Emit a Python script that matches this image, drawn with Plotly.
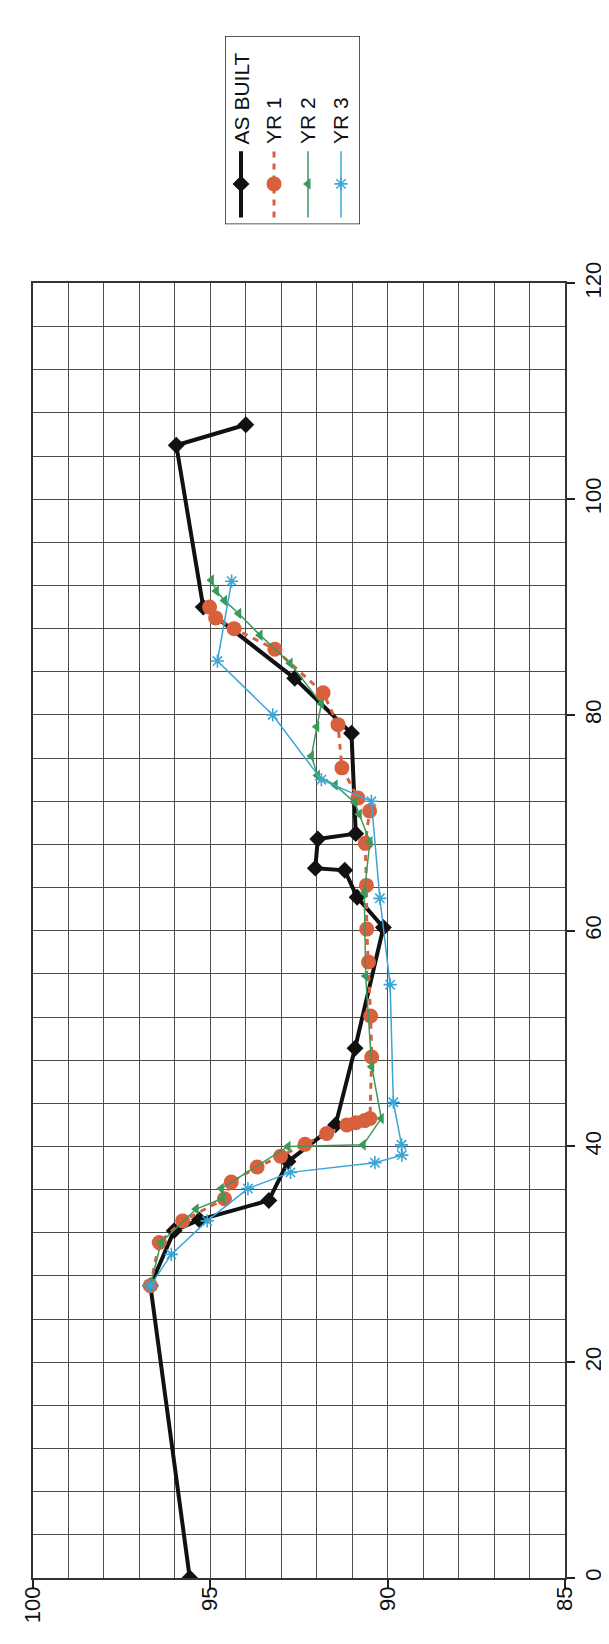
import plotly.graph_objects as go

# ---------------- data (station, elevation) ----------------
asbuilt_sta = [0, 27.1, 32.2, 33.2, 35.0, 38.6, 42.0, 49.1, 60.3, 63.1, 65.6, 65.8, 68.5, 69.0, 78.3, 83.4, 90.0, 105.0, 106.9]
asbuilt_elev = [95.58, 96.69, 96.02, 95.31, 93.35, 92.81, 91.47, 90.92, 90.12, 90.86, 91.21, 92.04, 91.97, 90.9, 91.02, 92.62, 95.2, 95.96, 94.0]

yr1_sta = [27.1, 31.1, 33.1, 35.15, 36.7, 38.1, 39.1, 40.2, 41.2, 42.0, 42.2, 42.4, 42.6, 48.3, 52.1, 57.1, 60.15, 64.2, 68.1, 71.1, 72.3, 75.1, 79.1, 82.05, 86.1, 88.0, 89.0, 90.0]
yr1_elev = [96.69, 96.44, 95.78, 94.6, 94.41, 93.68, 93.02, 92.33, 91.72, 91.15, 90.9, 90.65, 90.5, 90.45, 90.48, 90.54, 90.59, 90.6, 90.63, 90.51, 90.84, 91.29, 91.4, 91.82, 93.18, 94.33, 94.85, 95.02]

yr2_sta = [27.1, 31.1, 34.2, 35.2, 36.1, 40.0, 40.15, 42.6, 47.4, 55.8, 63.5, 68.25, 70.8, 71.9, 73.5, 74.4, 76.2, 78.9, 81.05, 84.8, 87.4, 89.4, 90.6, 91.5, 92.5]
yr2_elev = [96.69, 96.39, 95.4, 94.65, 94.69, 92.81, 90.69, 90.18, 90.45, 90.62, 90.66, 90.5, 90.8, 90.93, 91.48, 91.98, 92.15, 92.0, 91.87, 92.75, 93.6, 94.2, 94.6, 94.83, 94.97]

yr3_sta = [27.1, 30.0, 33.1, 36.1, 37.6, 38.5, 39.2, 40.15, 44.1, 55.0, 63.0, 72.0, 74.0, 80.0, 85.0, 92.4]
yr3_elev = [96.69, 96.1, 95.09, 93.94, 92.74, 90.36, 89.6, 89.61, 89.84, 89.93, 90.22, 90.46, 91.87, 93.24, 94.8, 94.4]

series_names = ["AS BUILT", "YR 1", "YR 2", "YR 3"]

elev_range = [100, 85]
elev_ticks = [100, 95, 90, 85]
sta_range = [0, 120]
sta_ticks = [0, 20, 40, 60, 80, 100, 120]

# ---------------- styles ----------------
FONT = "Liberation Sans, Arial, sans-serif"
GRID = "#4d4d4d"
C_BLACK = "#111111"
C_ORANGE = "#d8603c"
C_GREEN = "#3a9a5c"
C_CYAN = "#3aa6d6"

styles = [
    dict(line=dict(color=C_BLACK, width=4),
         marker=dict(symbol="diamond", size=13, color=C_BLACK)),
    dict(line=dict(color=C_ORANGE, width=3, dash="6px,6px"),
         marker=dict(symbol="circle", size=15, color=C_ORANGE)),
    dict(line=dict(color=C_GREEN, width=1.5),
         marker=dict(symbol="triangle-left", size=10, color=C_GREEN)),
    dict(line=dict(color=C_CYAN, width=1.5),
         marker=dict(symbol="asterisk-open", size=11, color=C_CYAN,
                     line=dict(color=C_CYAN, width=1.6))),
]

data_sets = [
    (asbuilt_sta, asbuilt_elev),
    (yr1_sta, yr1_elev),
    (yr2_sta, yr2_elev),
    (yr3_sta, yr3_elev),
]

fig = go.Figure()
for name, (sta, elev), st in zip(series_names, data_sets, styles):
    fig.add_trace(go.Scatter(
        x=elev, y=sta, mode="lines+markers", name=name,
        line=st["line"], marker=st["marker"], showlegend=False,
        xaxis="x", yaxis="y",
    ))

# ---------------- custom rotated legend (pixel-like units on x2/y2) ----------------
LEG_X0, LEG_X1, LEG_Y0, LEG_Y1 = 217, 352, 6, 197
leg_cols = [233, 266, 300, 333]
leg_line_lo, leg_line_hi, leg_mark = 190, 123, 156
leg_text_base = 118

for name, col, st in zip(series_names, leg_cols, styles):
    fig.add_trace(go.Scatter(
        x=[col, col], y=[leg_line_lo, leg_line_hi], mode="lines",
        line=st["line"], showlegend=False, hoverinfo="skip",
        xaxis="x2", yaxis="y2"))
    fig.add_trace(go.Scatter(
        x=[col], y=[leg_mark], mode="markers",
        marker=st["marker"], showlegend=False, hoverinfo="skip",
        xaxis="x2", yaxis="y2"))
    fig.add_annotation(
        x=col, y=leg_text_base, xref="x2", yref="y2", text=name,
        textangle=-90, showarrow=False, xanchor="center", yanchor="bottom",
        font=dict(family=FONT, size=21, color="#111111"))

fig.add_shape(type="rect", xref="x2", yref="y2",
              x0=LEG_X0, x1=LEG_X1, y0=LEG_Y0, y1=LEG_Y1,
              line=dict(color="#222222", width=1.5))

W, H = 609, 1644
ML, MR, MT, MB = 25, 52, 5, 74
plot_h = H - MT - MB
plot_w = W - ML - MR
main_top_px = 257
y_dom_top = (H - MB - main_top_px) / plot_h

fig.update_layout(
    width=W, height=H, autosize=False,
    margin=dict(l=ML, r=MR, t=MT, b=MB, pad=0),
    paper_bgcolor="white", plot_bgcolor="white",
    font=dict(family=FONT, size=22, color="#111111"),
    showlegend=False,
    xaxis=dict(
        range=elev_range, tickvals=elev_ticks, ticktext=[str(v) for v in elev_ticks],
        tickangle=-90, ticks="outside", ticklen=8, tickwidth=1.5, tickcolor="#222222",
        ticklabelstandoff=-10,
        showgrid=True, gridcolor=GRID, gridwidth=1.2,
        minor=dict(dtick=1, tick0=0, showgrid=True, gridcolor=GRID, gridwidth=1.2, ticks=""),
        showline=True, linecolor="#333333", linewidth=1.5, mirror=True,
        zeroline=False, domain=[0, 1], anchor="y",
        tickfont=dict(family=FONT, size=22, color="#111111"),
    ),
    yaxis=dict(
        range=sta_range, tickvals=sta_ticks, ticktext=[str(v) for v in sta_ticks],
        side="right", tickangle=-90, ticks="outside", ticklen=8, tickwidth=1.5,
        tickcolor="#222222",
        showgrid=True, gridcolor=GRID, gridwidth=1.2,
        minor=dict(dtick=4, tick0=0, showgrid=True, gridcolor=GRID, gridwidth=1.2, ticks=""),
        showline=True, linecolor="#333333", linewidth=1.5, mirror=True,
        zeroline=False, domain=[0, y_dom_top], anchor="x",
        tickfont=dict(family=FONT, size=22, color="#111111"),
    ),
    xaxis2=dict(
        range=[LEG_X0, LEG_X1], domain=[(LEG_X0 - ML) / plot_w, (LEG_X1 - ML) / plot_w],
        visible=False, anchor="y2", fixedrange=True,
    ),
    yaxis2=dict(
        range=[LEG_Y1, LEG_Y0], domain=[(H - MB - LEG_Y1) / plot_h, (H - MB - LEG_Y0) / plot_h],
        visible=False, anchor="x2", fixedrange=True,
    ),
)

fig.write_html("out.html")
